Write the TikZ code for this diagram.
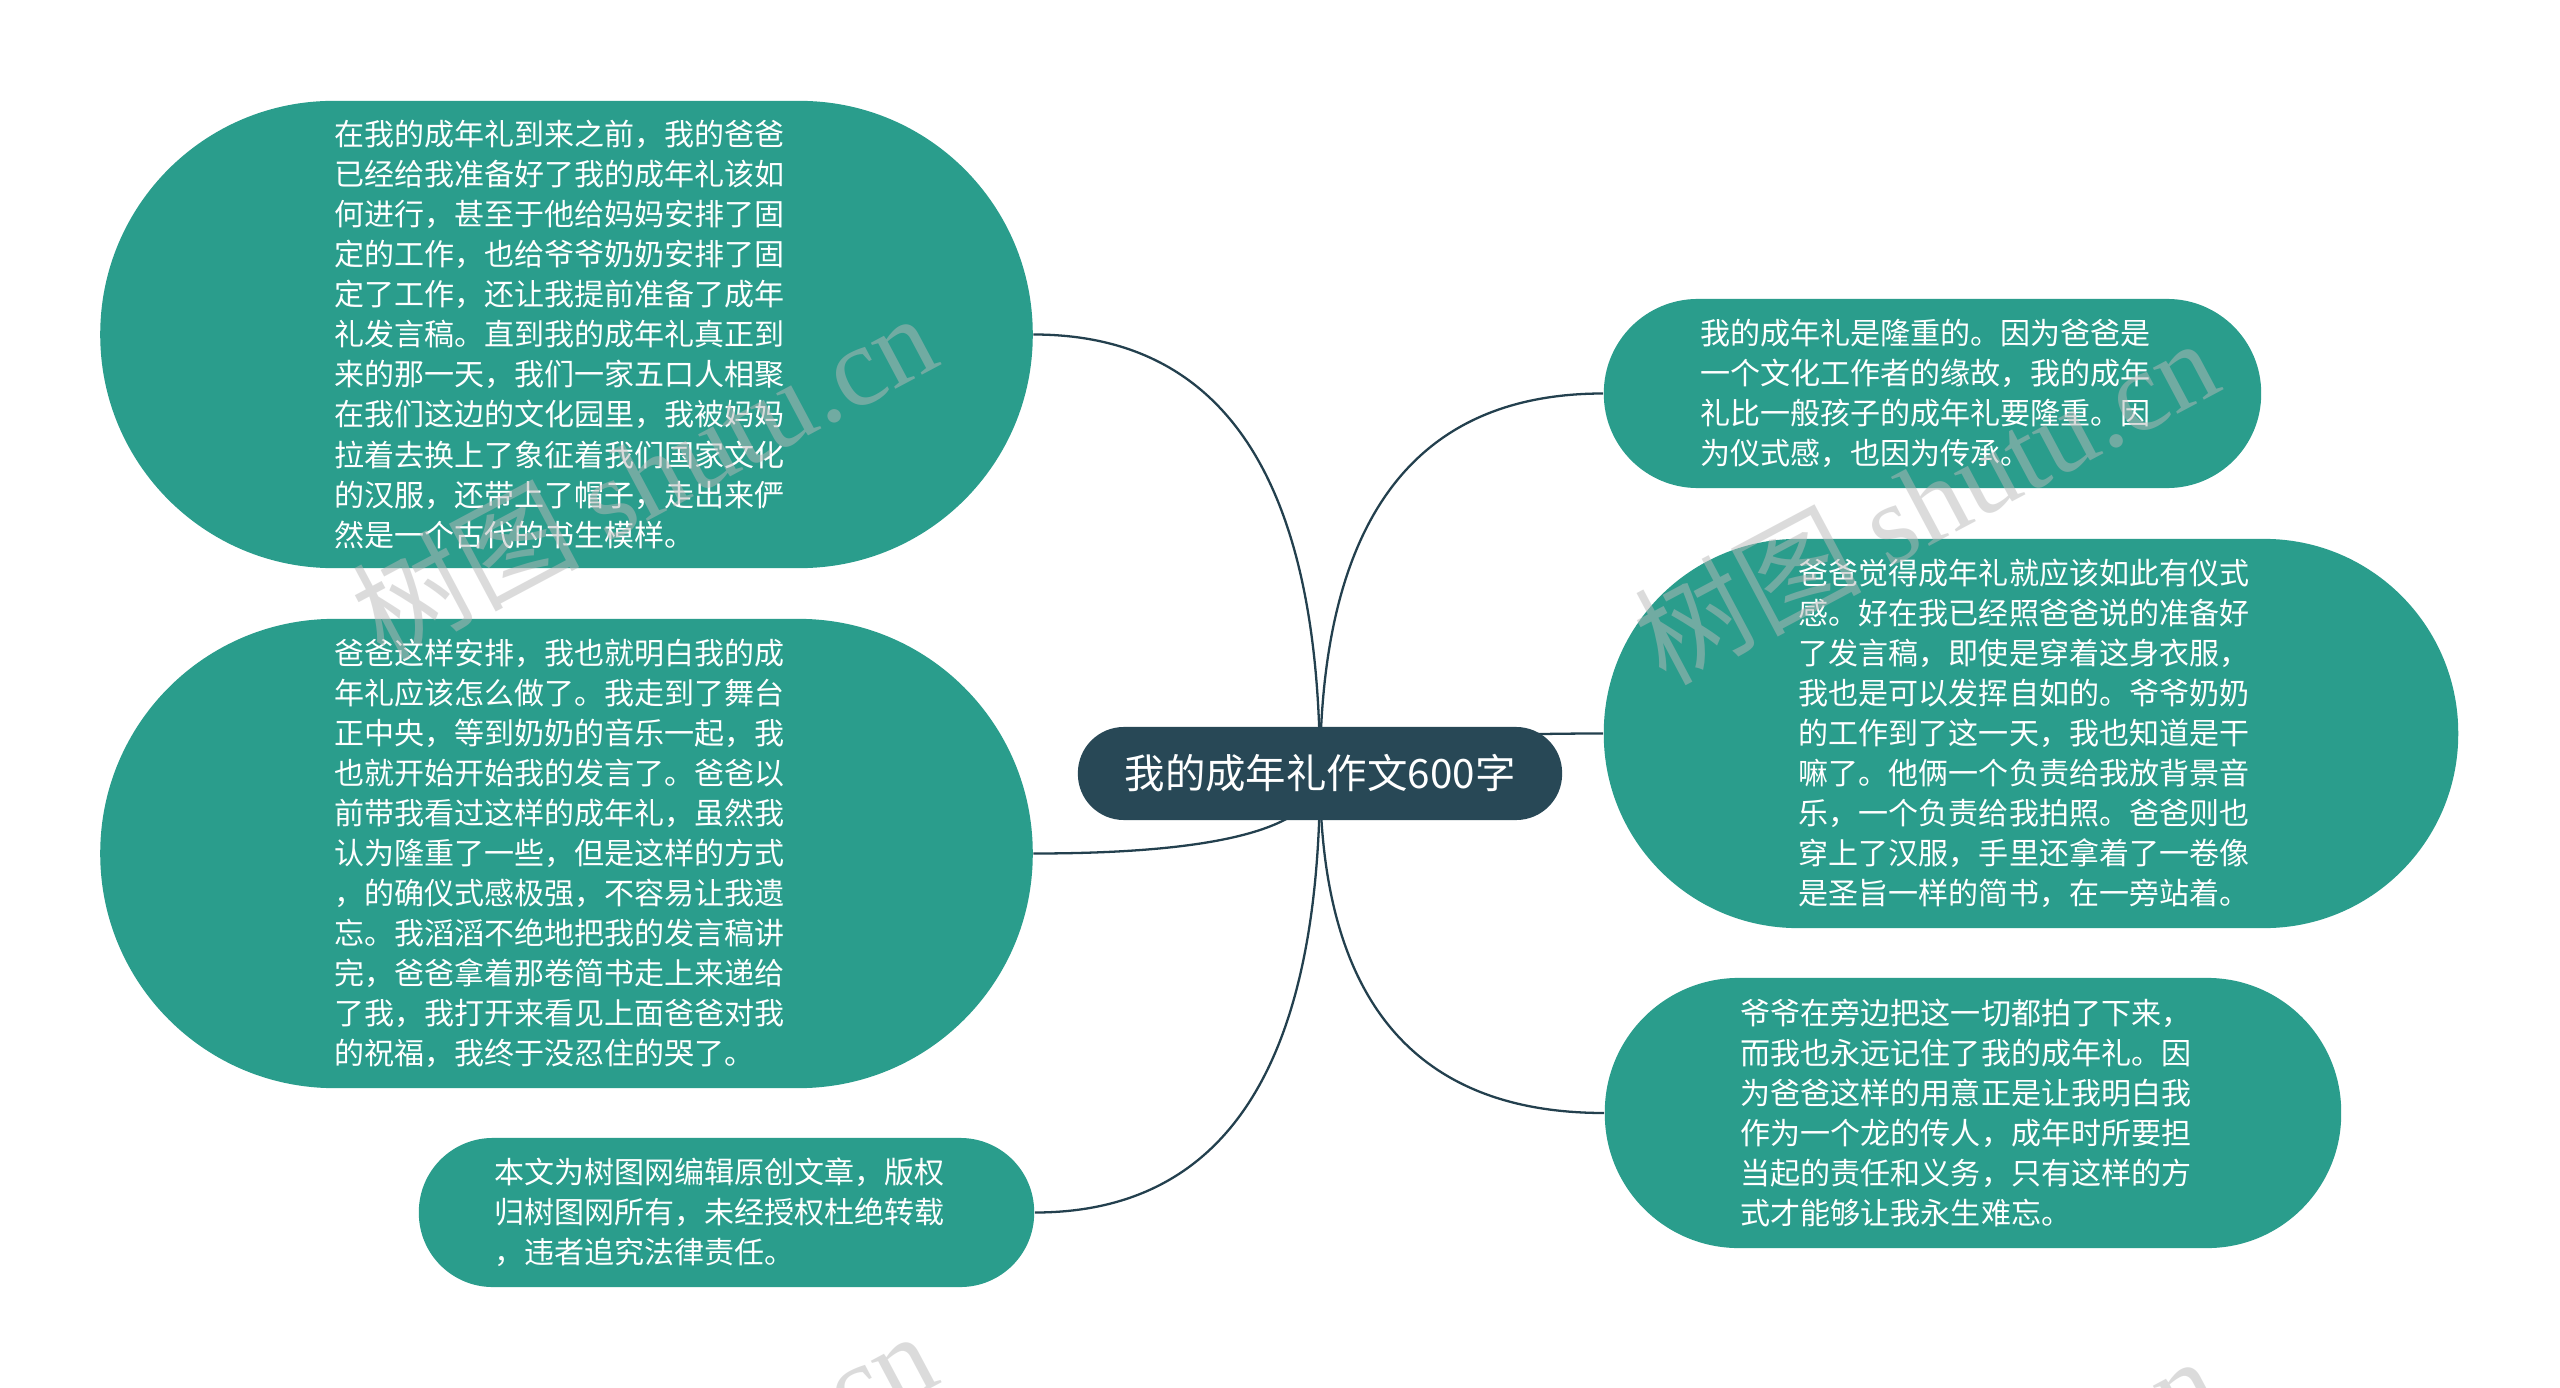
\documentclass[tikz,border=0pt]{standalone}
\usepackage{fontspec}
\setmainfont{Noto Sans CJK SC}
\newfontfamily\wmlatin{Liberation Serif}
\usetikzlibrary{calc,backgrounds}
\definecolor{tealc}{RGB}{42,157,140}
\definecolor{rootc}{RGB}{40,72,86}
\definecolor{linec}{RGB}{35,64,78}
\definecolor{wmc}{RGB}{185,185,185}
\tikzset{
  topic/.style={fill=tealc, text=white, rounded corners=#1, inner sep=0pt, align=left,
    font=\fontsize{8.54}{11.38}\selectfont},
  rootnode/.style={fill=rootc, text=white, rounded corners=0.46cm, inner sep=0pt,
    minimum width=4.84cm, minimum height=0.93cm, font=\fontsize{11.5}{13}\selectfont},
  link/.style={draw=linec, line width=0.65pt},
  wm/.style={text=wmc, text opacity=0.5, rotate=28, anchor=base west, inner sep=0pt,
    font=\fontsize{32.3}{36}\selectfont},
}
\newcommand\pad{\rule{0.14cm}{0pt}}
\newcommand\linkto[2]{%
  \draw[link] (#1) .. controls ($(#1)!0.667!(#1 |- #2)$) and ($(#2)!0.667!(#1 |- #2)$) .. (#2);}
\begin{document}
\begin{tikzpicture}[x=0.01cm, y=-0.01cm]
\useasboundingbox (0,0) rectangle (2560,1388);

\node[rootnode] (root) at (1320,773.5) {我的成年礼作文600字};

\node[topic=2.33cm, minimum width=9.32cm, minimum height=4.67cm] (n1) at (566.5,334.5) {在我的成年礼到来之前，我的爸爸\pad\\已经给我准备好了我的成年礼该如\\何进行，甚至于他给妈妈安排了固\\定的工作，也给爷爷奶奶安排了固\\定了工作，还让我提前准备了成年\\礼发言稿。直到我的成年礼真正到\\来的那一天，我们一家五口人相聚\\在我们这边的文化园里，我被妈妈\\拉着去换上了象征着我们国家文化\\的汉服，还带上了帽子，走出来俨\\然是一个古代的书生模样。};

\node[topic=2.34cm, minimum width=9.32cm, minimum height=4.69cm] (n2) at (566.5,853.5) {爸爸这样安排，我也就明白我的成\pad\\年礼应该怎么做了。我走到了舞台\\正中央，等到奶奶的音乐一起，我\\也就开始开始我的发言了。爸爸以\\前带我看过这样的成年礼，虽然我\\认为隆重了一些，但是这样的方式\\，的确仪式感极强，不容易让我遗\\忘。我滔滔不绝地把我的发言稿讲\\完，爸爸拿着那卷简书走上来递给\\了我，我打开来看见上面爸爸对我\\的祝福，我终于没忍住的哭了。};

\node[topic=0.74cm, minimum width=6.15cm, minimum height=1.49cm] (n3) at (726.5,1212.5) {本文为树图网编辑原创文章，版权\pad\\归树图网所有，未经授权杜绝转载\\，违者追究法律责任。};

\node[topic=0.94cm, minimum width=6.57cm, minimum height=1.89cm] (r1) at (1932.5,393.5) {我的成年礼是隆重的。因为爸爸是\pad\\一个文化工作者的缘故，我的成年\\礼比一般孩子的成年礼要隆重。因\\为仪式感，也因为传承。};

\node[topic=1.94cm, minimum width=8.54cm, minimum height=3.89cm] (r2) at (2031,733.5) {爸爸觉得成年礼就应该如此有仪式\pad\\感。好在我已经照爸爸说的准备好\\了发言稿，即使是穿着这身衣服，\\我也是可以发挥自如的。爷爷奶奶\\的工作到了这一天，我也知道是干\\嘛了。他俩一个负责给我放背景音\\乐，一个负责给我拍照。爸爸则也\\穿上了汉服，手里还拿着了一卷像\\是圣旨一样的简书，在一旁站着。};

\node[topic=1.34cm, minimum width=7.36cm, minimum height=2.70cm] (r3) at (1973,1113) {爷爷在旁边把这一切都拍了下来，\pad\\而我也永远记住了我的成年礼。因\\为爸爸这样的用意正是让我明白我\\作为一个龙的传人，成年时所要担\\当起的责任和义务，只有这样的方\\式才能够让我永生难忘。};

\begin{scope}[on background layer]
  \fill[white] (0,0) rectangle (2560,1388);
  \linkto{root.center}{n1.east}
  \linkto{root.center}{n2.east}
  \linkto{root.center}{n3.east}
  \linkto{root.center}{r1.west}
  \linkto{root.center}{r2.west}
  \linkto{root.center}{r3.west}
\end{scope}

\begin{scope}
  \clip (0,0) rectangle (2560,1388);
  \node[wm] (wm1) at (383,662) {树图 {\wmlatin shutu.cn}};
  \node[wm] (wm2) at (1665,687) {树图 {\wmlatin shutu.cn}};
  \node[wm] (wm3) at (383,1680) {树图 {\wmlatin shutu.cn}};
  \node[wm] (wm4) at (1665,1705) {树图 {\wmlatin shutu.cn}};
\end{scope}
\end{tikzpicture}
\end{document}
